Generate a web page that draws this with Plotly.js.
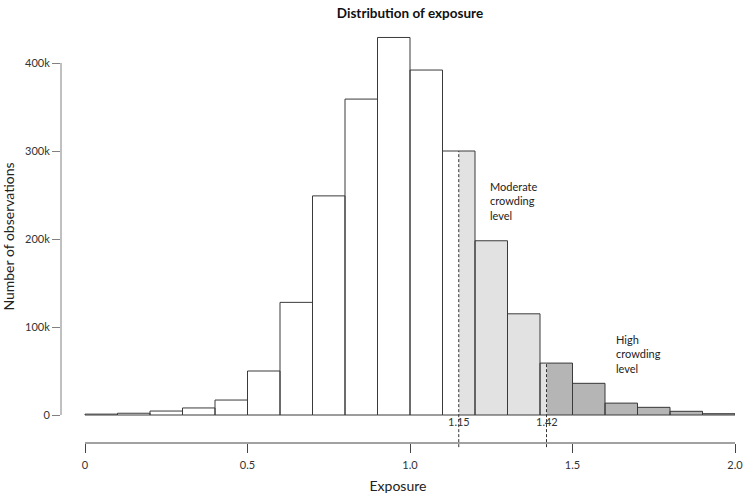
<!DOCTYPE html>
<html>
<head>
<meta charset="utf-8">
<script src="https://cdn.plot.ly/plotly-3.0.1.min.js"></script>
<style>html,body{margin:0;padding:0;background:#fff;}#chart{width:745px;height:496px;}</style>
</head>
<body>
<div id="chart"></div>
<script>
// ---- data ----
const binStarts = [0.0,0.1,0.2,0.3,0.4,0.5,0.6,0.7,0.8,0.9,1.0,1.1,1.2,1.3,1.4,1.5,1.6,1.7,1.8,1.9];
const binWidth = 0.1;
const counts = [1000,2000,4500,8000,17000,50000,128000,249000,359000,429000,392000,300000,198000,115000,59000,36000,13500,8700,4200,1500];
const moderateThreshold = 1.15;
const highThreshold = 1.42;
const thresholdLabels = ["1.15","1.42"];
const xTickVals = [0,0.5,1.0,1.5,2.0];
const xTickText = ["0","0.5","1.0","1.5","2.0"];
const yTickVals = [0,100000,200000,300000,400000];
const yTickText = ["0","100k","200k","300k","400k"];
const regionNames = ["Low","Moderate","High"];
const regionColors = ["#ffffff","#e2e2e2","#b5b5b5"];

// ---- build segments split at thresholds ----
const segs = [[],[],[]];
binStarts.forEach((lo,i)=>{
  const hi = lo + binWidth;
  const cuts = [lo];
  [moderateThreshold, highThreshold].forEach(t=>{ if(t>lo+1e-9 && t<hi-1e-9) cuts.push(t); });
  cuts.push(hi);
  for(let k=0;k<cuts.length-1;k++){
    const a=cuts[k], b=cuts[k+1], mid=(a+b)/2;
    const r = mid < moderateThreshold ? 0 : (mid < highThreshold ? 1 : 2);
    segs[r].push({x:mid, w:b-a, y:counts[i]});
  }
});

const traces = segs.map((s,r)=>({
  type:'bar', name:regionNames[r],
  x:s.map(d=>d.x), y:s.map(d=>d.y), width:s.map(d=>d.w),
  marker:{color:regionColors[r], line:{width:0}},
  hoverinfo:'skip', showlegend:false
}));
traces.push({
  type:'bar', name:'bins',
  x:binStarts.map(v=>v+binWidth/2), y:counts, width:binStarts.map(()=>binWidth),
  marker:{color:'rgba(0,0,0,0)', line:{width:1, color:'#3a3a3a'}},
  hoverinfo:'skip', showlegend:false
});

const yRange = [-31818, 437500];
function yPaper(v){ return (v - yRange[0])/(yRange[1]-yRange[0]); }
function countAt(x){ const i = Math.floor((x - binStarts[0])/binWidth + 1e-9); return counts[i]; }

const font = "Lato, 'Open Sans', sans-serif";
const shapes = [
  {type:'line', xref:'paper', yref:'y', x0:0, x1:0, y0:yTickVals[0], y1:yTickVals[yTickVals.length-1], line:{color:'#808080', width:1}},
  {type:'line', xref:'x', yref:'paper', x0:xTickVals[0], x1:xTickVals[xTickVals.length-1], y0:0, y1:0, line:{color:'#444', width:1}}
];
[moderateThreshold, highThreshold].forEach(t=>{
  shapes.push({type:'line', xref:'x', yref:'paper', x0:t, x1:t, y0:-0.01, y1:yPaper(countAt(t)), line:{color:'#333', width:1, dash:'3px,2px'}});
});

const annotations = [
  {x:moderateThreshold, y:0.031, xref:'x', yref:'paper', text:thresholdLabels[0], showarrow:false, font:{family:font, size:11, color:'#333'}},
  {x:highThreshold, y:0.031, xref:'x', yref:'paper', text:thresholdLabels[1], showarrow:false, font:{family:font, size:11, color:'#333'}},
  {x:1.24, y:269000, xref:'x', yref:'y', text:"Moderate<br>crowding<br>level", showarrow:false, xanchor:'left', yanchor:'top', align:'left', font:{family:font, size:11, color:'#222'}},
  {x:1.627, y:95500, xref:'x', yref:'y', text:"High<br>crowding<br>level", showarrow:false, xanchor:'left', yanchor:'top', align:'left', font:{family:font, size:11, color:'#222'}}
];

const layout = {
  width:745, height:496,
  margin:{l:61, r:10, t:30, b:53},
  paper_bgcolor:'#fff', plot_bgcolor:'#fff',
  barmode:'overlay', bargap:0,
  font:{family:font, color:'#222'},
  title:{text:'<b>Distribution of exposure</b>', x:0.5503, xref:'container', y:0.974, yref:'container', yanchor:'middle', font:{family:font, size:13.5, color:'#111'}},
  xaxis:{range:[-24/325, 2.0], showgrid:false, zeroline:false, showline:false,
         tickmode:'array', tickvals:xTickVals, ticktext:xTickText, ticks:'outside', ticklen:9, tickcolor:'#444',
         ticklabelstandoff:3,
         tickfont:{family:font, size:11, color:'#333'},
         title:{text:'Exposure', font:{family:font, size:14, color:'#222'}, standoff:10}},
  yaxis:{range:yRange, showgrid:false, zeroline:false, showline:false,
         tickmode:'array', tickvals:yTickVals, ticktext:yTickText, ticks:'outside', ticklen:8, tickcolor:'#808080',
         tickfont:{family:font, size:11, color:'#333'},
         title:{text:'Number of observations', font:{family:font, size:14, color:'#222'}, standoff:8}},
  shapes:shapes, annotations:annotations
};

Plotly.newPlot('chart', traces, layout, {displayModeBar:false, staticPlot:true});
</script>
</body>
</html>
